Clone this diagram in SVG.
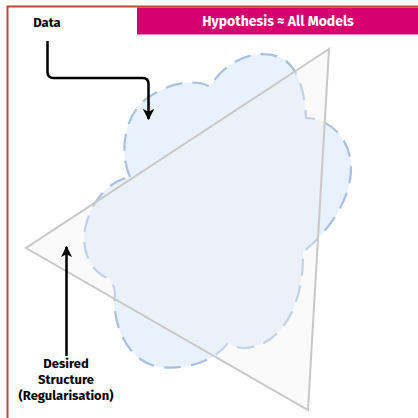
<svg xmlns="http://www.w3.org/2000/svg" width="418" height="418" viewBox="0 0 418 418">
  <defs>
    <marker id="arrowhead" viewBox="0 0 10 10" refX="9" refY="5" markerWidth="4.5" markerHeight="4.5" orient="auto" markerUnits="strokeWidth">
      <path d="M0,0 L10,5 L0,10 L2.5,5 Z" fill="#000"/>
    </marker>
  </defs>
  <style>
    .label { font-family: "Fira Sans", "Lato", "Liberation Sans", sans-serif; font-weight: bold; font-size: 13px; fill: #000; text-anchor: middle; }
    .title { font-family: "Fira Sans", "Lato", "Liberation Sans", sans-serif; font-weight: bold; font-size: 14px; fill: #fff; text-anchor: middle; }
    .connector { fill: none; stroke: #000; stroke-width: 2.5; marker-end: url(#arrowhead); }
  </style>

  <rect width="418" height="418" fill="#fff"/>

  <!-- outer frame and header banner -->
  <g id="frame">
    <rect x="7.5" y="6.5" width="430" height="430" fill="none" stroke="#b94a3c" stroke-width="2"/>
    <rect x="137" y="7.5" width="290" height="27" fill="#d6006f"/>
    <text class="title" x="278" y="26">Hypothesis ≈ All Models</text>
  </g>

  <!-- hypothesis space: dashed cloud -->
  <g id="hypothesis-cloud">
    <path d="M130,177 C118,150 125,110 152,95 C175,80 200,80 210,87
             C225,60 260,45 285,60 C300,72 305,95 306,118
             C330,118 352,140 351,170 C350,200 330,230 303,252
             L303,257 C303,300 285,345 245,348 C238,348 232,346 228,343
             C215,360 190,370 160,367 C125,362 112,320 115,295 C115,287 112,282 110,279
             C88,272 80,245 86,225 C92,200 110,180 130,177 Z"
          fill="#e9f1fc" stroke="#a9c0e0" stroke-width="2.2" stroke-dasharray="17 10"/>
  </g>

  <!-- desired structure: triangle -->
  <g id="structure-triangle">
    <polygon points="329,49 26,248 308,410" fill="#f0f0f0" fill-opacity="0.35" stroke="#c8c8c8" stroke-width="2" stroke-linejoin="miter"/>
  </g>

  <g id="data">
    <text class="label" x="47" y="27">Data</text>
  </g>

  <g id="desired-structure">
    <text class="label" x="66" y="368">Desired</text>
    <text class="label" x="66" y="384">Structure</text>
    <text class="label" x="66" y="400">(Regularisation)</text>
  </g>

  <g id="connectors">
    <path class="connector" d="M47.5,41 L47.5,72 Q47.5,78 53.5,78 L142.5,78 Q148.5,78 148.5,84 L148.5,119"/>
    <path class="connector" d="M66.5,356 L66.5,247"/>
  </g>
</svg>
